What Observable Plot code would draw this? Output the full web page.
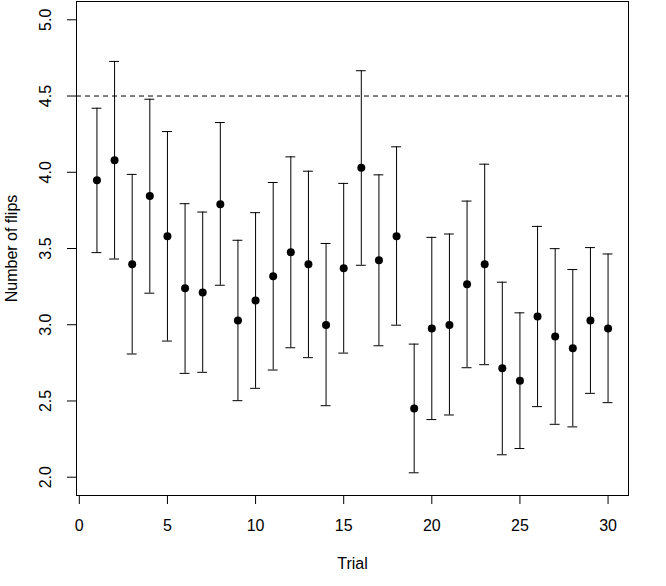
<!DOCTYPE html>
<html>
<head>
<meta charset="utf-8">
<script src="https://cdn.jsdelivr.net/npm/d3@7"></script>
<script src="https://cdn.jsdelivr.net/npm/@observablehq/plot@0.6"></script>
<style>
  html, body { margin: 0; padding: 0; background: #fff; }
  svg { display: block; }
</style>
</head>
<body>
<div id="chart"></div>
<script>
const trials = d3.range(1, 31);
const means = [3.948, 4.079, 3.397, 3.844, 3.580, 3.240, 3.211, 3.791, 3.028, 3.159,
               3.318, 3.475, 3.397, 2.998, 3.370, 4.029, 3.423, 3.580, 2.450, 2.975,
               2.998, 3.266, 3.397, 2.714, 2.633, 3.054, 2.923, 2.845, 3.028, 2.975];
const upper = [4.420, 4.727, 3.986, 4.479, 4.267, 3.794, 3.739, 4.326, 3.554, 3.735,
               3.933, 4.101, 4.007, 3.533, 3.927, 4.666, 3.983, 4.167, 2.873, 3.573,
               3.595, 3.811, 4.053, 3.279, 3.078, 3.645, 3.499, 3.362, 3.506, 3.464];
const lower = [3.473, 3.431, 2.808, 3.207, 2.893, 2.681, 2.688, 3.259, 2.502, 2.583,
               2.703, 2.849, 2.784, 2.469, 2.814, 3.390, 2.862, 2.997, 2.029, 2.378,
               2.408, 2.718, 2.738, 2.147, 2.188, 2.463, 2.347, 2.330, 2.550, 2.489];
const xTicks = [0, 5, 10, 15, 20, 25, 30];
const yTicks = [2.0, 2.5, 3.0, 3.5, 4.0, 4.5, 5.0];
const refLine = [4.5];

const data = trials.map((t, i) => ({trial: t, mean: means[i], lo: lower[i], hi: upper[i]}));
const capHalf = 0.28;

const font = "'Liberation Sans', Arial, Helvetica, sans-serif";
const fs = 16;

const chart = Plot.plot({
  width: 666,
  height: 586,
  marginLeft: 76,
  marginRight: 38,
  marginTop: 1,
  marginBottom: 91,
  style: {fontFamily: font, fontSize: fs + "px", background: "#fff", color: "#000"},
  x: {domain: [-0.16, 31.16], axis: null},
  y: {domain: [1.88, 5.12], axis: null},
  marks: [
    Plot.ruleY(refLine, {stroke: "#000", strokeWidth: 1, strokeDasharray: "5,4"}),
    Plot.ruleX(data, {x: "trial", y1: "lo", y2: "hi", stroke: "#000", strokeWidth: 1}),
    Plot.ruleY(data, {y: "hi", x1: d => d.trial - capHalf, x2: d => d.trial + capHalf, stroke: "#000", strokeWidth: 1}),
    Plot.ruleY(data, {y: "lo", x1: d => d.trial - capHalf, x2: d => d.trial + capHalf, stroke: "#000", strokeWidth: 1}),
    Plot.dot(data, {x: "trial", y: "mean", r: 4, fill: "#000", stroke: "none"}),
    Plot.axisX({ticks: xTicks, tickSize: 9, tickPadding: 15, tickFormat: d => String(d), fontSize: fs, label: null}),
    Plot.axisY({ticks: yTicks, tickSize: 9, tickFormat: () => "", label: null}),
    Plot.text(yTicks, {y: d => d, text: d => d.toFixed(1), frameAnchor: "left", dx: -31, rotate: -90, textAnchor: "middle", lineAnchor: "middle", fontSize: fs, fill: "#000"}),
    Plot.text(["Trial"], {frameAnchor: "bottom", dy: 68, lineAnchor: "middle", fontSize: fs, fill: "#000"}),
    Plot.text(["Number of flips"], {frameAnchor: "left", dx: -65, rotate: -90, textAnchor: "middle", lineAnchor: "middle", fontSize: fs, fill: "#000"}),
    Plot.frame({stroke: "#000", strokeWidth: 1})
  ]
});
document.getElementById("chart").appendChild(chart);
</script>
</body>
</html>
